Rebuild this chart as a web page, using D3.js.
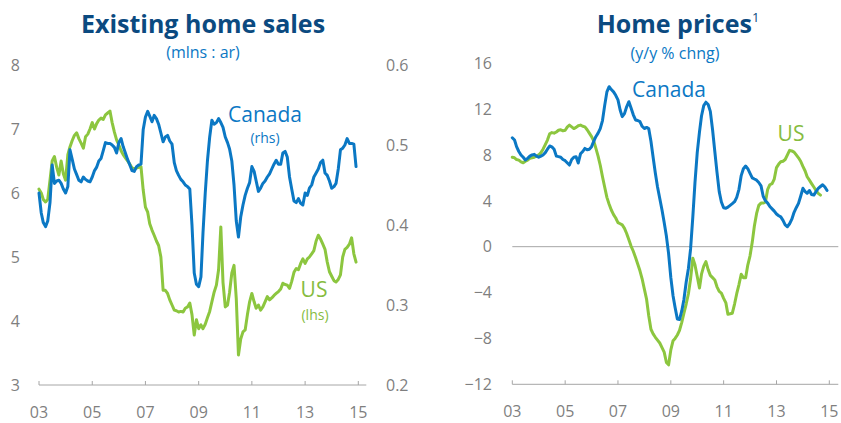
<!DOCTYPE html>
<html>
<head>
<meta charset="utf-8">
<script src="https://cdn.jsdelivr.net/npm/d3@7"></script>
<style>
  html, body { margin: 0; padding: 0; background: #fff; }
  svg text { font-family: "Open Sans", sans-serif; }
</style>
</head>
<body>
<div id="chart"></div>
<script>
const width = 841;
const height = 423;
const blue = "#0b78c4";
const green = "#8cc63f";
const navy = "#0b4a80";
const axisGrey = "#a6a6a6";
const textGrey = "#7f7f7f";

// monthly, Jan 2003 onward
const startMonth = new Date(2003, 0, 1);
const xTickYears = [2003, 2005, 2007, 2009, 2011, 2013, 2015];

// Existing home sales, mlns : ar
const usSales = [
  6.06, 6.0, 5.9, 5.86, 5.9, 6.2, 6.5, 6.57, 6.4, 6.28,
  6.5, 6.3, 6.2, 6.6, 6.72, 6.82, 6.9, 6.94, 6.85, 6.78,
  6.7, 6.88, 6.92, 7.0, 7.1, 7.0, 7.08, 7.14, 7.17, 7.15,
  7.22, 7.25, 7.28, 7.1, 6.95, 6.83, 6.75, 6.66, 6.6, 6.55,
  6.5, 6.45, 6.39, 6.38, 6.39, 6.4, 6.41, 6.05, 5.78, 5.7,
  5.52, 5.42, 5.34, 5.25, 5.18, 5.0, 4.48, 4.48, 4.43, 4.33,
  4.25, 4.17, 4.16, 4.14, 4.15, 4.14, 4.2, 4.22, 4.28, 4.1,
  3.78, 4.02, 3.88, 3.94, 3.88, 3.95, 4.05, 4.15, 4.3, 4.45,
  4.56, 4.8, 5.47, 4.6, 4.22, 4.25, 4.45, 4.75, 4.87, 4.35,
  3.47, 3.72, 3.83, 3.86, 4.1, 4.3, 4.43, 4.3, 4.2, 4.25,
  4.17, 4.22, 4.3, 4.38, 4.33, 4.36, 4.4, 4.43, 4.46, 4.5,
  4.59, 4.57, 4.56, 4.51, 4.62, 4.76, 4.82, 4.8, 4.9, 4.97,
  4.9, 4.97, 5.0, 5.05, 5.1, 5.25, 5.34, 5.28, 5.2, 5.12,
  4.92, 4.77, 4.7, 4.63, 4.61, 4.65, 4.72, 5.0, 5.12, 5.15,
  5.2, 5.3, 5.05, 4.92
];
const caSales = [
  0.44, 0.415, 0.403, 0.398, 0.405, 0.428, 0.475, 0.452, 0.455, 0.456,
  0.452, 0.445, 0.44, 0.448, 0.494, 0.482, 0.47, 0.463, 0.456, 0.454,
  0.46, 0.457, 0.455, 0.454, 0.46, 0.468, 0.472, 0.48, 0.483, 0.493,
  0.503, 0.502, 0.502, 0.50, 0.497, 0.49, 0.503, 0.508, 0.498, 0.49,
  0.482, 0.475, 0.468, 0.467, 0.473, 0.475, 0.476, 0.519, 0.535, 0.542,
  0.536, 0.529, 0.537, 0.533, 0.526, 0.515, 0.504, 0.51, 0.512, 0.505,
  0.501, 0.478, 0.468, 0.462, 0.457, 0.454, 0.45, 0.448, 0.445, 0.40,
  0.34, 0.326, 0.323, 0.335, 0.39, 0.44, 0.48, 0.51, 0.531, 0.526,
  0.528, 0.533, 0.528, 0.522, 0.51, 0.503, 0.495, 0.48, 0.45, 0.405,
  0.385, 0.41, 0.425, 0.437, 0.446, 0.453, 0.473, 0.467, 0.455, 0.442,
  0.446, 0.452, 0.455, 0.46, 0.464, 0.47, 0.476, 0.481, 0.476, 0.476,
  0.49, 0.492, 0.485, 0.46, 0.445, 0.43, 0.428, 0.433, 0.427, 0.425,
  0.44, 0.437, 0.446, 0.45, 0.46, 0.465, 0.47, 0.478, 0.481, 0.465,
  0.462, 0.455, 0.446, 0.448, 0.452, 0.47, 0.494, 0.496, 0.50, 0.508,
  0.502, 0.502, 0.501, 0.473
];

// Home prices, y/y % chng
const caPrices = [
  9.5, 9.3, 8.72, 8.3, 8.0, 7.8, 7.56, 7.7, 7.9, 8.0,
  8.05, 7.9, 7.8, 7.9, 8.0, 8.2, 8.5, 8.78, 8.7, 8.5,
  7.9, 7.85, 7.8, 7.6, 7.5, 7.3, 7.12, 7.6, 7.8, 7.85,
  7.3, 8.1, 8.3, 8.57, 8.45, 8.5, 8.72, 9.2, 9.59, 9.9,
  10.3, 11.0, 12.3, 13.5, 13.95, 13.7, 13.5, 13.2, 12.8, 11.9,
  11.34, 11.6, 12.2, 12.64, 12.1, 11.5, 11.05, 11.0, 10.9, 10.5,
  10.3, 10.4, 10.3, 9.2, 7.8, 6.4, 5.2, 4.2, 3.2, 2.1,
  0.9, -0.6, -2.7, -4.3, -5.3, -6.3, -6.35, -5.6, -4.6, -3.1,
  -1.9, -0.2, 2.6, 5.6, 8.2, 10.0, 11.4, 12.3, 12.6, 12.4,
  11.8, 10.2, 8.3, 6.5, 4.8, 3.9, 3.4, 3.35, 3.45, 3.6,
  3.75, 3.92, 4.3, 5.0, 6.2, 6.8, 7.03, 6.8, 6.4, 6.0,
  5.9, 5.8, 5.6, 5.3, 4.4, 4.0, 3.8, 3.5, 3.3, 3.1,
  2.85, 2.7, 2.6, 2.3, 1.9, 1.74, 2.0, 2.4, 3.0, 3.4,
  3.78, 4.4, 5.09, 4.8, 4.66, 4.9, 4.55, 4.5, 4.8, 5.09,
  5.25, 5.4, 5.2, 4.9
];
const usPrices = [
  7.8, 7.75, 7.6, 7.55, 7.4, 7.32, 7.45, 7.55, 7.7, 7.75,
  7.8, 7.9, 8.0, 8.2, 8.5, 8.9, 9.3, 9.85, 9.95, 9.9,
  10.0, 10.15, 10.2, 10.1, 10.15, 10.45, 10.6, 10.45, 10.3, 10.4,
  10.55, 10.6, 10.5, 10.45, 10.2, 9.9, 9.6, 9.2, 8.6, 7.9,
  7.1, 6.1, 5.2, 4.3, 3.7, 3.2, 2.8, 2.5, 2.1, 2.0,
  1.9, 1.6, 1.15, 0.6, 0.05, -0.4, -0.95, -1.5, -2.1, -2.8,
  -3.7, -4.6, -6.0, -7.2, -7.6, -7.9, -8.15, -8.4, -8.8, -9.2,
  -10.1, -10.3, -9.0, -8.2, -8.0, -7.7, -7.3, -6.6, -5.8, -5.0,
  -4.1, -2.8, -1.0, -1.6, -2.6, -3.6, -2.4, -1.7, -1.3, -2.0,
  -2.5, -2.7, -2.9, -3.5, -3.9, -4.05, -4.5, -4.9, -5.9, -5.85,
  -5.8, -5.0, -4.1, -3.3, -2.4, -2.7, -2.7, -1.6, -0.8, 0.4,
  1.8, 2.9, 3.6, 3.8, 3.8, 3.9, 5.0, 5.4, 5.5, 5.9,
  6.9, 7.2, 7.4, 7.45, 7.6, 8.0, 8.4, 8.35, 8.25, 8.0,
  7.75, 7.45, 7.0, 6.6, 6.1, 5.8, 5.5, 5.2, 4.9, 4.65,
  4.5
];

const salesLeftTicks = [3, 4, 5, 6, 7, 8];
const salesRightTicks = [0.2, 0.3, 0.4, 0.5, 0.6];
const priceTicks = [-12, -8, -4, 0, 4, 8, 12, 16];

var svg = d3.select("#chart").append("svg")
  .attr("width", width)
  .attr("height", height);

function toSeries(values) {
  return values.map(function (v, i) { return { date: d3.timeMonth.offset(startMonth, i), value: v }; });
}

function drawXAxis(x, y0, extra) {
  var g = svg.append("g").attr("transform", "translate(0," + y0 + ")");
  g.append("line")
    .attr("x1", x.range()[0]).attr("x2", x.range()[1] + extra)
    .attr("stroke", axisGrey).attr("stroke-width", 1);
  var ticks = xTickYears.map(function (yr) { return new Date(yr, 0, 1); });
  g.selectAll(".tk").data(ticks).enter().append("line")
    .attr("x1", function (d) { return x(d); }).attr("x2", function (d) { return x(d); })
    .attr("y1", -4).attr("y2", 0)
    .attr("stroke", axisGrey).attr("stroke-width", 1);
  g.selectAll(".lb").data(ticks).enter().append("text")
    .attr("x", function (d) { return x(d); })
    .attr("y", 33)
    .attr("text-anchor", "middle")
    .attr("fill", textGrey)
    .style("font-size", "16px")
    .text(d3.timeFormat("%y"));
}

function drawYLabels(scale, ticks, xPos, anchor, fmt) {
  svg.append("g").selectAll("text").data(ticks).enter().append("text")
    .attr("x", xPos)
    .attr("y", function (d) { return scale(d); })
    .attr("dy", "0.36em")
    .attr("text-anchor", anchor)
    .attr("fill", textGrey)
    .style("font-size", "16px")
    .text(fmt);
}

function drawLine(series, x, y, color) {
  var line = d3.line()
    .x(function (d) { return x(d.date); })
    .y(function (d) { return y(d.value); });
  svg.append("path")
    .datum(series)
    .attr("d", line)
    .attr("fill", "none")
    .attr("stroke", color)
    .attr("stroke-width", 3)
    .attr("stroke-linejoin", "round")
    .attr("stroke-linecap", "round");
}

function label(txt, x, y, size, color, weight) {
  return svg.append("text")
    .attr("x", x).attr("y", y)
    .attr("text-anchor", "middle")
    .attr("fill", color)
    .style("font-size", size + "px")
    .style("font-weight", weight || "normal")
    .text(txt);
}

//Left chart: existing home sales
var xL = d3.scaleTime().domain([new Date(2003, 0, 1), new Date(2015, 0, 1)]).range([39, 358.3]);
var yL = d3.scaleLinear().domain([3, 8]).range([385, 65]);
var yR = d3.scaleLinear().domain([0.2, 0.6]).range([385, 65]);

label("Existing home sales", 203, 33, 25, navy, "bold");
label("(mlns : ar)", 203, 58, 16, blue);
drawYLabels(yL, salesLeftTicks, 20, "end", d3.format("d"));
drawYLabels(yR, salesRightTicks, 386, "start", d3.format(".1f"));
drawXAxis(xL, 385, 8);
drawLine(toSeries(usSales), xL, yL, green);
drawLine(toSeries(caSales), xL, yR, blue);
label("Canada", 265, 122, 21, blue);
label("(rhs)", 265, 143, 14, blue);
label("US", 314, 297, 21, "#86bc3f");
label("(lhs)", 315, 320, 14, "#86bc3f");

//Right chart: home prices
var xP = d3.scaleTime().domain([new Date(2003, 0, 1), new Date(2015, 0, 1)]).range([512.3, 829.3]);
var yP = d3.scaleLinear().domain([-12, 16]).range([384.3, 63.2]);

var t = label("Home prices", 678, 33, 25, navy, "bold");
t.append("tspan")
  .attr("dy", -11)
  .style("font-size", "13px")
  .style("font-weight", "normal")
  .text("1");
label("(y/y % chng)", 675, 59, 16, blue);
drawYLabels(yP, priceTicks, 492, "end", d3.format("d"));
svg.append("line")
  .attr("x1", xP.range()[0]).attr("x2", xP.range()[1] + 9)
  .attr("y1", yP(0)).attr("y2", yP(0))
  .attr("stroke", axisGrey).attr("stroke-width", 1);
drawXAxis(xP, 384.3, 9);
drawLine(toSeries(usPrices), xP, yP, green);
drawLine(toSeries(caPrices), xP, yP, blue);
label("Canada", 669, 97, 21, blue);
label("US", 791, 141, 21, "#86bc3f");
</script>
</body>
</html>
